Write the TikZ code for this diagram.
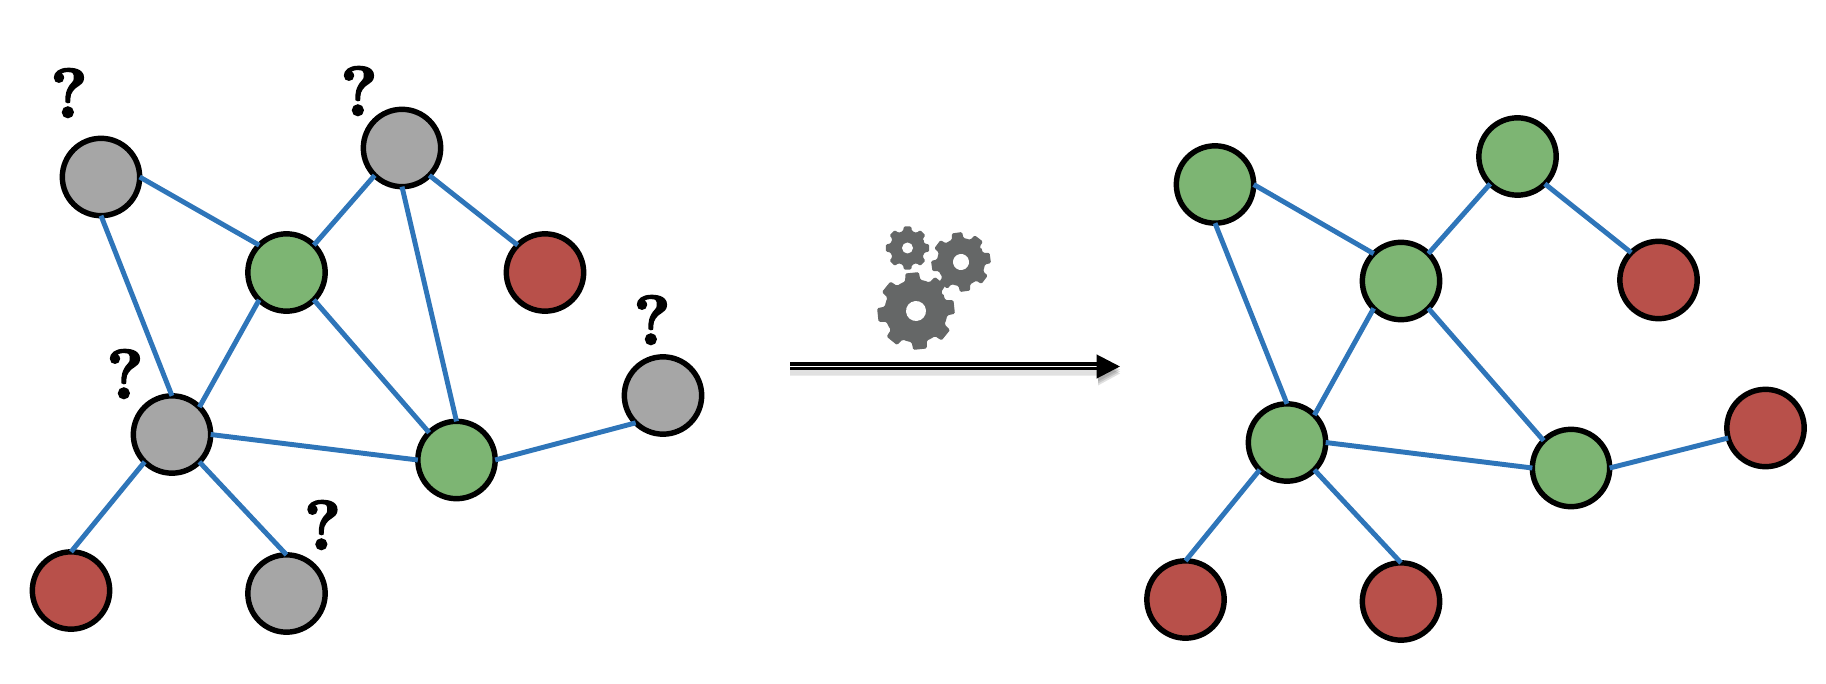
\documentclass[tikz,border=0pt]{standalone}
\usepackage{fontspec}
\usetikzlibrary{arrows.meta}
\newfontfamily\queryfont[BoldFeatures={FakeBold=3}]{Latin Modern Roman}
\definecolor{nodegray}{HTML}{A6A6A6}
\definecolor{nodegreen}{HTML}{7DB573}
\definecolor{nodered}{HTML}{B8504A}
\definecolor{edgeblue}{HTML}{2E75B9}
\definecolor{gearcolor}{HTML}{656767}
\tikzset{
    vertex/.style={shape=circle, draw=black, line width=4.1pt, minimum size=58pt, inner sep=0pt, outer sep=0pt},
    unknown/.style={vertex, fill=nodegray},
    known/.style={vertex, fill=nodegreen},
    other/.style={vertex, fill=nodered},
    link/.style={-, draw=edgeblue, line width=3.7pt},
    query/.style={font=\fontsize{52}{52}\queryfont\bfseries, inner sep=0pt}
}
% center x, center y, outer radius, root radius, hole radius, rotation
\newcommand{\gearwheel}[6]{
    \begin{scope}[shift={(#1,#2)}, rotate=#6]
        \fill[gearcolor, rounded corners=1pt] (-22.5:#4)
            \foreach \t in {0,45,...,315} {
                -- (\t-22.5:#4) -- (\t-14:#4) -- (\t-10:#3) -- (\t+10:#3) -- (\t+14:#4)
            } -- cycle;
        \fill[white] (0,0) circle (#5);
    \end{scope}
}
\begin{document}
\begin{tikzpicture}[x=0.75pt, y=-0.75pt]
    \useasboundingbox (0,0) rectangle (1826,684);

    % before
    \node[unknown] (A) at (101,177) {};
    \node[unknown] (B) at (402,148) {};
    \node[known] (C) at (286.5,272.5) {};
    \node[other] (D) at (545,272.5) {};
    \node[unknown] (E) at (172,434.5) {};
    \node[known] (F) at (456.5,460) {};
    \node[unknown] (G) at (663,395.5) {};
    \node[other] (H) at (71,590.5) {};
    \node[unknown] (I) at (286.5,593.5) {};

    \path [link] (A.east) edge (C.135);
    \path [link] (A.south) edge (E.north);
    \path [link] (B.225) edge (C.45);
    \path [link] (B.-45) edge (D.135);
    \path [link] (B.south) edge (F.north);
    \path [link] (C.225) edge (E.45);
    \path [link] (C.-45) edge (F.135);
    \path [link] (E.east) edge (F.west);
    \path [link] (F.east) edge (G.225);
    \path [link] (E.225) edge (H.north);
    \path [link] (E.-45) edge (I.north);

    \node[query] (qA) at (69,93) {?};
    \node[query] (qB) at (359,91) {?};
    \node[query] (qG) at (652,320) {?};
    \node[query] (qE) at (125,374) {?};
    \node[query] (qI) at (322.5,525) {?};

    % after
    \node[known] (a) at (1215,184.5) {};
    \node[known] (b) at (1517.5,156.5) {};
    \node[known] (c) at (1401,281) {};
    \node[other] (d) at (1658.5,280) {};
    \node[known] (e) at (1287,442.5) {};
    \node[known] (f) at (1571,468) {};
    \node[other] (g) at (1765.5,428) {};
    \node[other] (h) at (1185.5,599.5) {};
    \node[other] (i) at (1401,601.5) {};

    \path [link] (a.east) edge (c.135);
    \path [link] (a.south) edge (e.north);
    \path [link] (b.225) edge (c.45);
    \path [link] (b.-45) edge (d.135);
    \path [link] (c.225) edge (e.45);
    \path [link] (c.-45) edge (f.135);
    \path [link] (e.east) edge (f.west);
    \path [link] (f.east) edge (g.195);
    \path [link] (e.225) edge (h.north);
    \path [link] (e.-45) edge (i.north);

    % arrow
    \coordinate (from) at (790,366.5);
    \coordinate (to) at (1120,366.5);
    \coordinate (topfrom) at (790,362.5);
    \coordinate (topto) at (1100,362.5);
    \foreach \s in {3,5,7} {
        \fill[black, opacity=0.12] (from) ++(0,\s) -- ++(308,0) -- ++(0,-11) -- ++(0,-1) -- ++(22,12) -- ++(-22,12) -- ++(0,-10) -- ++(-308,0) -- cycle;
    }
    \draw[-{Triangle[length=17.5pt, width=17.5pt]}, double=white, double distance=0.8pt, line width=2.2pt, draw=black] (from) -- (to);
    \draw[line width=1.5pt] (topfrom) -- (topto);

    \gearwheel{916}{311}{39}{31.5}{10}{6}
    \gearwheel{907.5}{248}{22}{17.5}{5.5}{0}
    \gearwheel{961}{262}{30}{24}{8}{8}
\end{tikzpicture}
\end{document}
